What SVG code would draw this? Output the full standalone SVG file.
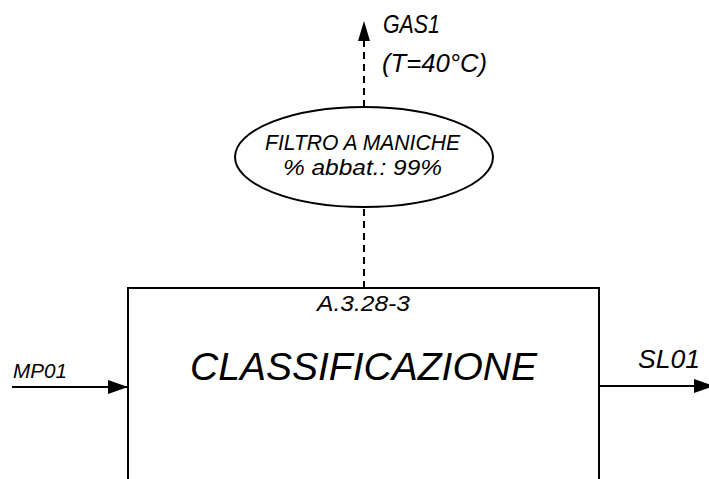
<svg xmlns="http://www.w3.org/2000/svg" width="709" height="479" viewBox="0 0 709 479">
<style>
.ln{stroke:#000;stroke-width:2;fill:none}
.dash{stroke:#000;stroke-width:2;fill:none;stroke-dasharray:7 5}
.t{font-family:"Liberation Sans",Arial,sans-serif;font-style:italic;fill:#000}
</style>
<defs>
<marker id="ah" markerWidth="20" markerHeight="14" refX="20" refY="7" orient="auto" markerUnits="userSpaceOnUse">
<path d="M0,0 L20,7 L0,14 Z" fill="#000"/>
</marker>
</defs>
<rect width="709" height="479" fill="#fff"/>
<g id="connectors">
<line class="dash" x1="364" y1="288" x2="364" y2="207"/>
<line class="dash" x1="364" y1="107" x2="364" y2="40"/>
<path d="M364,21 L370,41 L358,41 Z" fill="#000"/>
<line class="ln" x1="12" y1="387" x2="128" y2="387" marker-end="url(#ah)"/>
<line class="ln" x1="599" y1="386" x2="714" y2="386" marker-end="url(#ah)"/>
<text class="t" x="13" y="378" font-size="21" textLength="54" lengthAdjust="spacingAndGlyphs">MP01</text>
<text class="t" x="638" y="368" font-size="25" textLength="62" lengthAdjust="spacingAndGlyphs">SL01</text>
<text class="t" x="383" y="33" font-size="25" textLength="57" lengthAdjust="spacingAndGlyphs">GAS1</text>
<text class="t" x="382" y="72" font-size="26" textLength="105" lengthAdjust="spacingAndGlyphs">(T=40°C)</text>
</g>
<g id="filtro">
<ellipse class="ln" cx="364" cy="157" rx="129" ry="50"/>
<text class="t" x="265" y="150" font-size="22" textLength="195" lengthAdjust="spacingAndGlyphs">FILTRO A MANICHE</text>
<text class="t" x="283" y="175" font-size="22" textLength="159" lengthAdjust="spacingAndGlyphs">% abbat.: 99%</text>
</g>
<g id="classificazione">
<path class="ln" d="M128,479 L128,288 L599,288 L599,479"/>
<text class="t" x="317" y="311" font-size="22" textLength="93" lengthAdjust="spacingAndGlyphs">A.3.28-3</text>
<text class="t" x="190" y="380" font-size="39" textLength="347" lengthAdjust="spacingAndGlyphs">CLASSIFICAZIONE</text>
</g>
</svg>
